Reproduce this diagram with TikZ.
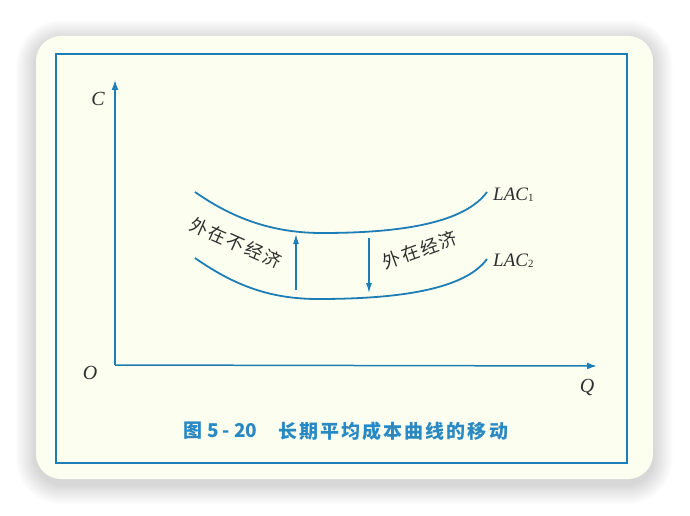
\documentclass[tikz,border=0pt]{standalone}
\usepackage{fontspec}
\setmainfont{Liberation Serif}
\newfontfamily\cjklab[LetterSpace=10]{Noto Sans CJK SC}
\newfontfamily\cjkcap[LetterSpace=11]{Noto Sans CJK SC}
\newfontfamily\cjknum{Noto Sans CJK SC}
\usetikzlibrary{arrows.meta}
\definecolor{lineblue}{HTML}{1F7DB6}
\definecolor{capblue}{HTML}{2A88C3}
\definecolor{cardbg}{HTML}{FCFFEF}
\definecolor{inktext}{HTML}{2E2E2E}
\begin{document}
\begin{tikzpicture}[x=1pt,y=-1pt,
  axisline/.style={lineblue,line width=1.5pt,-{Latex[length=10pt,width=7pt]}},
  shiftarrow/.style={lineblue,line width=1.2pt,-{Latex[length=10pt,width=6pt]}},
  curve/.style={lineblue,line width=1.8pt},
  axislabel/.style={font=\fontsize{20pt}{20pt}\selectfont\itshape,text=inktext,inner sep=0pt},
  laclabel/.style={font=\fontsize{19pt}{19pt}\selectfont\itshape,text=inktext,inner sep=0pt,anchor=west},
  cjklabel/.style={font=\cjklab\fontsize{18pt}{18pt}\selectfont,text=inktext,inner sep=0pt},
  captext/.style={text=capblue,inner sep=0pt,anchor=west}]
\useasboundingbox (0,0) rectangle (690,516);
\fill[white] (0,0) rectangle (690,516);
% shadow
\foreach \i [evaluate=\i as \r using 25+\i] in {1,...,20} {
  \fill[black,opacity=0.009,rounded corners=\r pt] (36-\i,40-\i) rectangle (653+\i,484+\i);
}
% card
\fill[cardbg,rounded corners=25pt] (36,36) rectangle (653,479);
\draw[lineblue,line width=1.8pt] (56,54) rectangle (627,463);
% axes
\coordinate (O) at (115,365);
\coordinate (Ctip) at (115,80);
\coordinate (Qtip) at (597,366);
\draw[axisline] (O) -- (Ctip);
\draw[axisline] (O) -- (Qtip);
\node[axislabel] (Clab) at (98,99) {C};
\node[axislabel] (Olab) at (90,373) {O};
\node[axislabel] (Qlab) at (587,387) {Q};
% curves
\coordinate (A1) at (195,192);
\coordinate (M1) at (322,233);
\coordinate (E1) at (487,192);
\coordinate (A2) at (195,258);
\coordinate (M2) at (318,299);
\coordinate (E2) at (487,259);
\draw[curve] (A1) .. controls (235,220) and (275,233) .. (M1) .. controls (405,233) and (465,222) .. (E1);
\draw[curve] (A2) .. controls (235,286) and (271,299) .. (M2) .. controls (401,299) and (465,289) .. (E2);
\node[laclabel] (L1) at (493,195) {LAC\raisebox{-1pt}{\upshape\fontsize{11pt}{11pt}\selectfont 1}};
\node[laclabel] (L2) at (493,261) {LAC\raisebox{-1pt}{\upshape\fontsize{11pt}{11pt}\selectfont 2}};
% shift arrows
\coordinate (U0) at (296,290);
\coordinate (U1) at (296,234);
\coordinate (D0) at (369,238);
\coordinate (D1) at (369,293);
\draw[shiftarrow] (U0) -- (U1);
\draw[shiftarrow] (D0) -- (D1);
\node[cjklabel,rotate=-24] (dis) at (236,243) {外在不经济};
\node[cjklabel,rotate=20] (eco) at (420,250) {外在经济};
% caption
\node[captext,font=\cjknum\bfseries\fontsize{19pt}{19pt}\selectfont] (capnum) at (183,431) {图\hspace{5pt}5\hspace{4pt}-\hspace{4pt}20};
\node[captext,font=\cjkcap\bfseries\fontsize{19pt}{19pt}\selectfont] (captitle) at (278,431) {长期平均成本曲线的移动};
\end{tikzpicture}
\end{document}
